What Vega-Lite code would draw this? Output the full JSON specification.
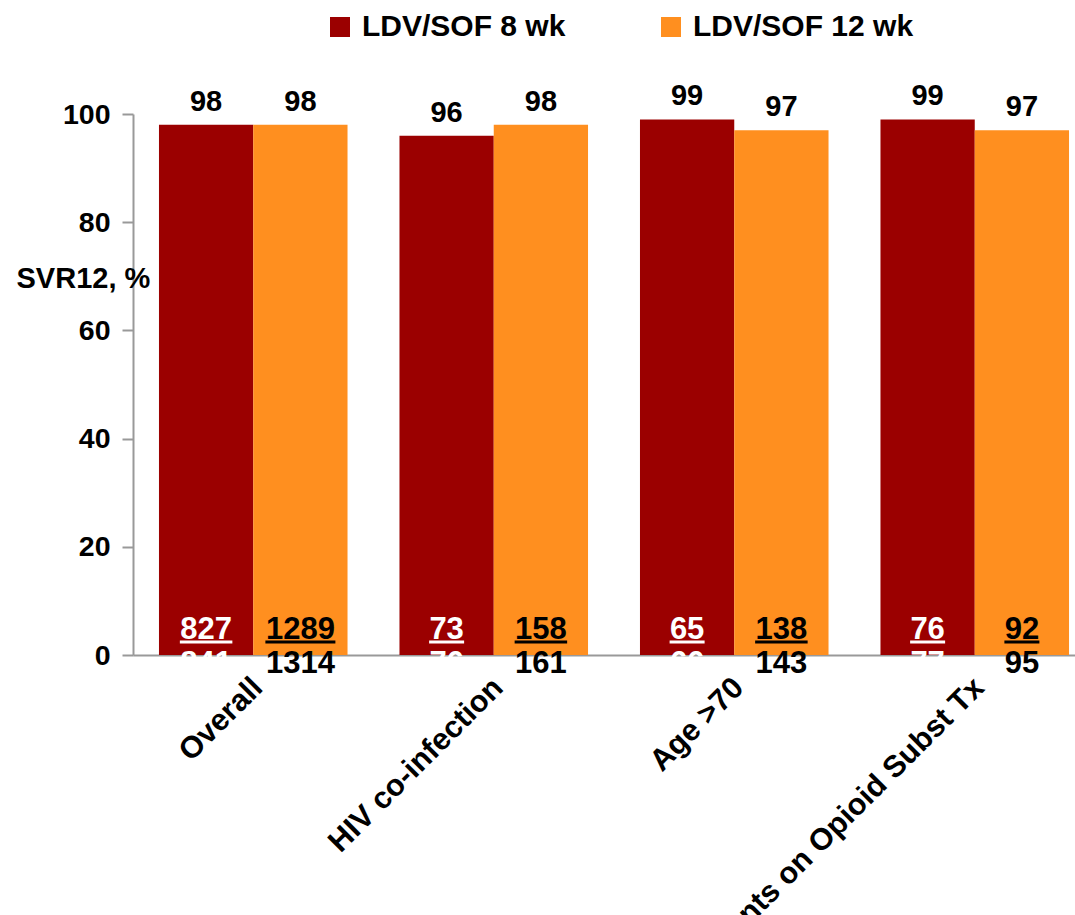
{
  "$schema": "https://vega.github.io/schema/vega-lite/v6.json",
  "autosize": {"type": "none"},
  "width": 942,
  "height": 541,
  "padding": {"left": 133, "top": 114, "right": 0, "bottom": 260},
  "background": "white",
  "config": {
    "view": {"stroke": null},
    "font": "Liberation Sans",
    "axis": {"labelFont": "Liberation Sans", "titleFont": "Liberation Sans"}
  },
  "data": {
    "values": [
      {"group": "Overall", "regimen": "LDV/SOF 8 wk", "svr": 98, "n": 827, "N": 841},
      {"group": "Overall", "regimen": "LDV/SOF 12 wk", "svr": 98, "n": 1289, "N": 1314},
      {"group": "HIV co-infection", "regimen": "LDV/SOF 8 wk", "svr": 96, "n": 73, "N": 76},
      {"group": "HIV co-infection", "regimen": "LDV/SOF 12 wk", "svr": 98, "n": 158, "N": 161},
      {"group": "Age >70", "regimen": "LDV/SOF 8 wk", "svr": 99, "n": 65, "N": 66},
      {"group": "Age >70", "regimen": "LDV/SOF 12 wk", "svr": 97, "n": 138, "N": 143},
      {"group": "Patients on Opioid Subst Tx", "regimen": "LDV/SOF 8 wk", "svr": 99, "n": 76, "N": 77},
      {"group": "Patients on Opioid Subst Tx", "regimen": "LDV/SOF 12 wk", "svr": 97, "n": 92, "N": 95}
    ]
  },
  "transform": [{"calculate": "length(toString(datum.n))", "as": "len"}],
  "encoding": {
    "x": {
      "field": "group", "type": "nominal",
      "sort": ["Overall", "HIV co-infection", "Age >70", "Patients on Opioid Subst Tx"],
      "scale": {"range": [0, 962], "paddingInner": 0.216, "paddingOuter": 0.108},
      "axis": {
        "title": null, "labelAngle": -45, "labelAlign": "right", "labelBaseline": "top",
        "labelFontSize": 30.5, "labelFontWeight": "bold", "labelColor": "black",
        "ticks": false, "domainColor": "#999999", "domainWidth": 2, "labelPadding": 17, "labelOffset": -6, "labelLimit": 0
      }
    },
    "xOffset": {
      "field": "regimen", "type": "nominal",
      "sort": ["LDV/SOF 8 wk", "LDV/SOF 12 wk"],
      "scale": {"paddingInner": 0, "paddingOuter": 0}
    }
  },
  "layer": [
    {
      "mark": {"type": "bar"},
      "encoding": {
        "y": {
          "field": "svr", "type": "quantitative",
          "scale": {"domain": [0, 100], "nice": false},
          "axis": {
            "values": [0, 20, 40, 60, 80, 100], "grid": false,
            "title": "SVR12, %", "titleAngle": 0, "titleAlign": "left", "titleBaseline": "middle",
            "titleX": -117, "titleY": 164, "titleFontSize": 29, "titleFontWeight": "bold", "titleColor": "black",
            "labelFontSize": 28.5, "labelFontWeight": "bold", "labelColor": "black",
            "tickColor": "#999999", "tickSize": 11, "tickWidth": 2, "domainColor": "#999999", "domainWidth": 2,
            "labelPadding": 12
          }
        },
        "color": {
          "field": "regimen", "type": "nominal",
          "sort": ["LDV/SOF 8 wk", "LDV/SOF 12 wk"],
          "scale": {"domain": ["LDV/SOF 8 wk", "LDV/SOF 12 wk"], "range": ["#9B0000", "#FF8F1F"]},
          "legend": {
            "title": null, "orient": "none", "direction": "horizontal",
            "legendX": 192, "legendY": -102,
            "symbolType": "square", "symbolSize": 400, "symbolStrokeWidth": 0,
            "labelFontSize": 30, "labelFontWeight": "bold", "labelColor": "black",
            "labelFont": "Liberation Sans", "columnPadding": 90, "labelOffset": 7, "labelLimit": 0
          }
        }
      }
    },
    {
      "mark": {"type": "text", "baseline": "alphabetic", "dy": -14, "fontSize": 29, "fontWeight": "bold", "color": "black"},
      "encoding": {
        "y": {"field": "svr", "type": "quantitative"},
        "text": {"field": "svr", "type": "quantitative"}
      }
    },
    {
      "mark": {"type": "text", "baseline": "alphabetic", "dy": -16, "fontSize": 31, "fontWeight": "bold"},
      "encoding": {
        "y": {"datum": 0},
        "text": {"field": "n", "type": "nominal"},
        "color": {"condition": {"test": "datum.regimen === 'LDV/SOF 8 wk'", "value": "white"}, "value": "black"}
      }
    },
    {
      "mark": {"type": "tick", "orient": "horizontal", "thickness": 3, "yOffset": -13, "opacity": 1},
      "encoding": {
        "y": {"datum": 0},
        "size": {"field": "len", "type": "quantitative", "scale": {"type": "linear", "domain": [0, 4], "range": [0, 70], "zero": true}, "legend": null},
        "color": {"condition": {"test": "datum.regimen === 'LDV/SOF 8 wk'", "value": "white"}, "value": "black"}
      }
    },
    {
      "mark": {"type": "text", "baseline": "alphabetic", "dy": 18, "fontSize": 31, "fontWeight": "bold"},
      "encoding": {
        "y": {"datum": 0},
        "text": {"field": "N", "type": "nominal"},
        "color": {"condition": {"test": "datum.regimen === 'LDV/SOF 8 wk'", "value": "white"}, "value": "black"}
      }
    }
  ]
}
